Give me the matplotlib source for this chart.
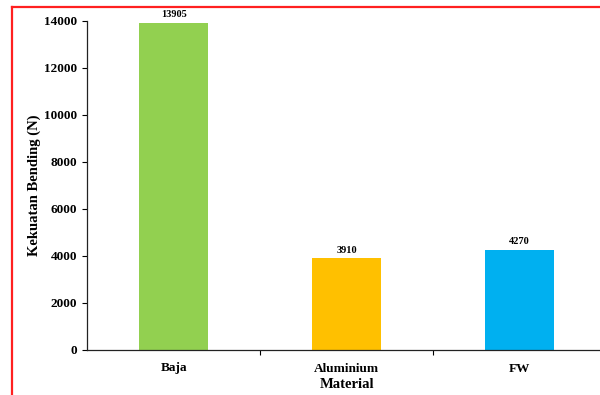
import matplotlib
matplotlib.use('Agg')
import matplotlib.pyplot as plt
from matplotlib.lines import Line2D

# data
materials = ['Baja', 'Aluminium', 'FW']
bending_strength = [13905, 3910, 4270]
bar_colors = ['#92D050', '#FFC000', '#00B0F0']
y_ticks = [0, 2000, 4000, 6000, 8000, 10000, 12000, 14000]

plt.rcParams['font.family'] = ['Liberation Serif', 'DejaVu Serif']
plt.rcParams['font.weight'] = 'bold'

W, H = 600, 395
fig = plt.figure(figsize=(W / 100, H / 100), dpi=100)
# axes in pixel terms: left 87.3, right 606 (runs off the image), bottom 350, top 20.7
ax = fig.add_axes([87.3 / W, (H - 350) / H, (606 - 87.3) / W, (350 - 20.7) / H])

x = range(len(materials))
ax.bar(x, bending_strength, width=0.4, color=bar_colors, zorder=2)

for xi, v in zip(x, bending_strength):
    ax.annotate(str(v), (xi, v), xytext=(0, 2.5), textcoords='offset points',
                ha='center', va='bottom', fontsize=7.5, fontweight='bold',
                clip_on=False, annotation_clip=False)

ax.set_xlim(-0.5, len(materials) - 0.5)
ax.set_ylim(0, 14000)
ax.set_yticks(y_ticks)
ax.set_yticklabels([str(t) for t in y_ticks], fontsize=9.5, fontweight='bold')
ax.set_xticks(list(x))
ax.set_xticklabels(materials, fontsize=9.5, fontweight='bold')
ax.set_xticks([0.5, 1.5], minor=True)
ax.tick_params(axis='x', which='major', length=0, pad=9)
ax.tick_params(axis='x', which='minor', length=3.5, width=0.8, direction='out')
ax.tick_params(axis='y', length=3.5, width=0.8, pad=4)

for s in ['top', 'right']:
    ax.spines[s].set_visible(False)
for s in ['left', 'bottom']:
    ax.spines[s].set_linewidth(0.9)
    ax.spines[s].set_color('#222222')

ax.set_xlabel('Material', fontsize=10.5, fontweight='bold')
ax.xaxis.set_label_coords((347 - 87.3) / (606 - 87.3), -(384 - 350) / (350 - 20.7))
ax.xaxis.label.set_va('center')
ax.set_ylabel('Kekuatan Bending (N)', fontsize=10.5, fontweight='bold')
ax.yaxis.set_label_coords(-(87.3 - 34) / (606 - 87.3), 0.5)
ax.yaxis.label.set_va('center')

# red frame around the picture (cut off on the right and bottom)
fig.add_artist(Line2D([11.5 / W, 1.0], [1 - 7 / H, 1 - 7 / H], color='#FF2020', lw=1.6))
fig.add_artist(Line2D([11.5 / W, 11.5 / W], [0.0, 1 - 7 / H], color='#FF2020', lw=1.6))

fig.savefig('out.png', dpi=100)
